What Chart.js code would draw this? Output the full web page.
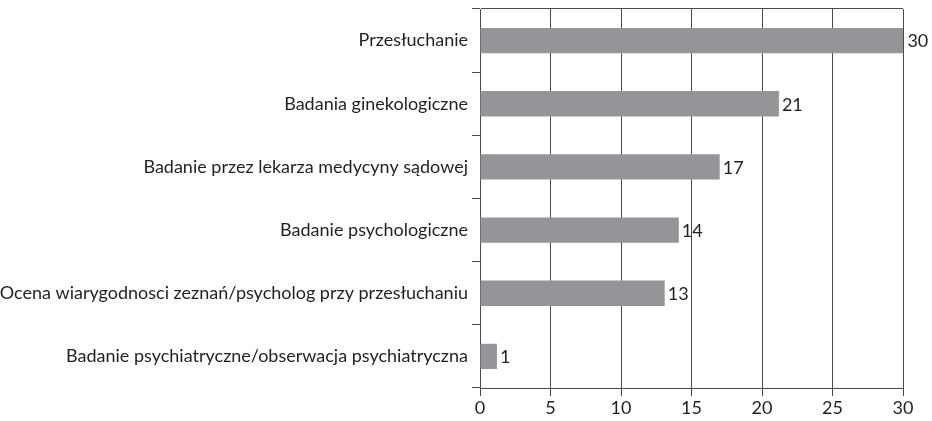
<!DOCTYPE html>
<html>
<head>
<meta charset="utf-8">
<script src="https://cdn.jsdelivr.net/npm/chart.js@4"></script>
<style>
  html, body { margin: 0; padding: 0; background: #fff; }
  #wrap { width: 932px; height: 421px; }
</style>
</head>
<body>
<div id="wrap"><canvas id="wykres"></canvas></div>
<script>
// dane
var kategorie = [
    'Przesłuchanie',
    'Badania ginekologiczne',
    'Badanie przez lekarza medycyny sądowej',
    'Badanie psychologiczne',
    'Ocena wiarygodnosci zeznań/psycholog przy przesłuchaniu',
    'Badanie psychiatryczne/obserwacja psychiatryczna'
];
var wartosci = [30.1, 21.2, 17.0, 14.1, 13.1, 1.2];
var etykiety = ['30', '21', '17', '14', '13', '1'];
var osX = [0, 5, 10, 15, 20, 25, 30];

var czcionka = "Lato, sans-serif";
var kolorLinii = '#4a4a4a';

// wypisz wartosci przy slupkach
var etykietyPlugin = {
    id: 'etykiety',
    afterDatasetsDraw: function (chart) {
        var ctx = chart.ctx;
        var meta = chart.getDatasetMeta(0);
        ctx.save();
        ctx.font = '18px ' + czcionka;
        ctx.fillStyle = '#231f20';
        ctx.textAlign = 'left';
        ctx.textBaseline = 'middle';
        meta.data.forEach(function (bar, i) {
            ctx.fillText(etykiety[i], bar.x + 3, bar.y + 1);
        });
        ctx.restore();
    }
};

var ctx = document.getElementById('wykres').getContext('2d');
new Chart(ctx, {
    type: 'bar',
    data: {
        labels: kategorie,
        datasets: [{
            data: wartosci,
            backgroundColor: '#939598',
            barPercentage: 0.8,
            categoryPercentage: 0.5
        }]
    },
    options: {
        indexAxis: 'y',
        responsive: true,
        maintainAspectRatio: false,
        animation: false,
        layout: { padding: { top: 9, right: 29, left: 0, bottom: 0 } },
        plugins: {
            legend: { display: false },
            tooltip: { enabled: false }
        },
        scales: {
            x: {
                min: 0,
                max: 30,
                afterBuildTicks: function (axis) {
                    axis.ticks = osX.map(function (v) { return { value: v }; });
                },
                afterFit: function (axis) { axis.height = 33; },
                grid: { color: kolorLinii, lineWidth: 1, tickLength: 8 },
                border: { display: true, color: kolorLinii },
                ticks: {
                    color: '#231f20',
                    padding: 1,
                    font: { family: czcionka, size: 18 }
                }
            },
            y: {
                afterFit: function (axis) {
                    axis.width = 480;
                    axis.paddingTop = 0;
                    axis.paddingBottom = 0;
                },
                grid: {
                    offset: true,
                    color: function (c) {
                        return (c.index === 0 || c.index === kategorie.length) ? kolorLinii : 'rgba(0,0,0,0)';
                    },
                    tickColor: kolorLinii,
                    tickLength: 8
                },
                border: { display: true, color: kolorLinii },
                ticks: {
                    color: '#231f20',
                    padding: 4,
                    font: { family: czcionka, size: 18 }
                }
            }
        }
    },
    plugins: [etykietyPlugin]
});
</script>
</body>
</html>
